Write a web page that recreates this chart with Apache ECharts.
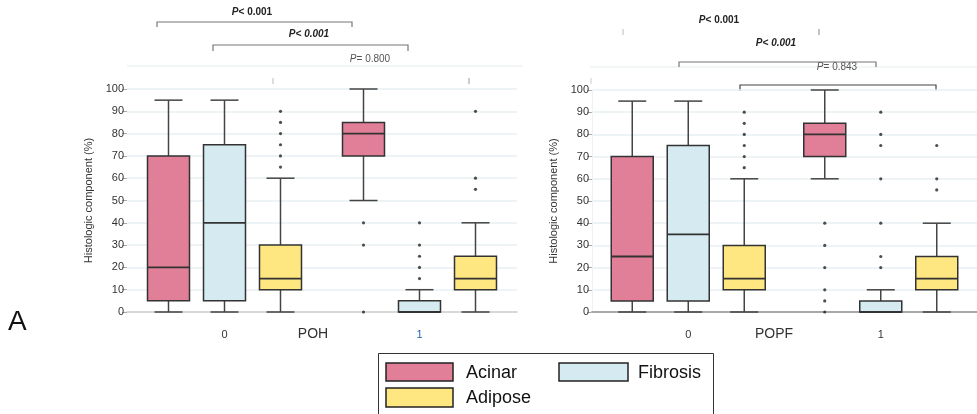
<!DOCTYPE html>
<html>
<head>
<meta charset="utf-8">
<script src="https://cdn.jsdelivr.net/npm/echarts@6/dist/echarts.min.js"></script>
<style>
html,body{margin:0;padding:0;background:#fff;}
#chart{width:977px;height:414px;}
</style>
</head>
<body>
<div id="chart"></div>
<script>
// ---------- DATA ----------
const categories = ['0', '1'];
const yTicks = [0, 10, 20, 30, 40, 50, 60, 70, 80, 90, 100];
const seriesNames = ['Acinar', 'Fibrosis', 'Adipose'];

// POH panel: [min, Q1, median, Q3, max] per category
const pohAcinar   = [[0, 5, 20, 70, 95], [50, 70, 80, 85, 100]];
const pohFibrosis = [[0, 5, 40, 75, 95], [0, 0, 0, 5, 10]];
const pohAdipose  = [[0, 10, 15, 30, 60], [0, 10, 15, 25, 40]];
const pohAcinarOut   = [[], [40, 30, 0]];
const pohFibrosisOut = [[], [40, 30, 25, 20, 15]];
const pohAdiposeOut  = [[90, 85, 80, 75, 70, 65], [90, 60, 55]];

// POPF panel
const popfAcinar   = [[0, 5, 25, 70, 95], [60, 70, 80, 85, 100]];
const popfFibrosis = [[0, 5, 35, 75, 95], [0, 0, 0, 5, 10]];
const popfAdipose  = [[0, 10, 15, 30, 60], [0, 10, 15, 25, 40]];
const popfAcinarOut   = [[], [40, 30, 20, 10, 5, 0]];
const popfFibrosisOut = [[], [90, 80, 75, 60, 40, 25, 20]];
const popfAdiposeOut  = [[90, 85, 80, 75, 70, 65], [75, 60, 55]];

const pLabels = ['< 0.001', '< 0.001', '= 0.800', '< 0.001', '< 0.001', '= 0.843'];

// ---------- STYLE ----------
const FONT = 'Liberation Sans, Arial, sans-serif';
const colors = ['#e07f97', '#d5ebf1', '#fee781'];
const offsets = [-56, 0, 56];

function boxRender(offset, color) {
  return function (params, api) {
    const cat = api.value(0);
    const cx = api.coord([cat, 0])[0] + offset;
    const y = [1, 2, 3, 4, 5].map(function (d) { return api.coord([cat, api.value(d)])[1]; });
    const hw = 21, cw = 14;
    const ls = { stroke: '#444', lineWidth: 1.5 };
    return {
      type: 'group',
      children: [
        { type: 'line', shape: { x1: cx, y1: y[4], x2: cx, y2: y[3] }, style: ls },
        { type: 'line', shape: { x1: cx, y1: y[1], x2: cx, y2: y[0] }, style: ls },
        { type: 'line', shape: { x1: cx - cw, y1: y[4], x2: cx + cw, y2: y[4] }, style: ls },
        { type: 'line', shape: { x1: cx - cw, y1: y[0], x2: cx + cw, y2: y[0] }, style: ls },
        { type: 'rect', shape: { x: cx - hw, y: y[3], width: 2 * hw, height: Math.max(y[1] - y[3], 1) },
          style: { fill: color, stroke: '#333', lineWidth: 1.5 } },
        { type: 'line', shape: { x1: cx - hw, y1: y[2], x2: cx + hw, y2: y[2] }, style: { stroke: '#333', lineWidth: 1.8 } }
      ]
    };
  };
}

function boxData(arr) {
  return arr.map(function (s, i) { return [i].concat(s); });
}
function outData(arr) {
  const res = [];
  arr.forEach(function (list, i) { list.forEach(function (v) { res.push([i, v]); }); });
  return res;
}

function panelSeries(idx, boxes, outs) {
  const s = [];
  boxes.forEach(function (b, k) {
    s.push({
      type: 'custom', name: seriesNames[k], xAxisIndex: idx, yAxisIndex: idx,
      renderItem: boxRender(offsets[k], colors[k]),
      encode: { x: 0, y: [1, 2, 3, 4, 5] },
      data: boxData(b), z: 2
    });
  });
  outs.forEach(function (o, k) {
    s.push({
      type: 'scatter', xAxisIndex: idx, yAxisIndex: idx,
      symbol: 'circle', symbolSize: 3.2, symbolOffset: [offsets[k], 0],
      itemStyle: { color: '#222' }, data: outData(o), z: 3, silent: true
    });
  });
  return s;
}

function yAxisCfg(idx, showLine) {
  return {
    type: 'value', gridIndex: idx, min: yTicks[0], max: yTicks[yTicks.length - 1], interval: 10,
    name: 'Histologic component (%)', nameLocation: 'middle', nameGap: 33,
    nameTextStyle: { fontSize: 11, color: '#333', fontFamily: FONT },
    axisLine: { show: showLine, lineStyle: { color: '#eef2f4', width: 1 } },
    axisTick: { show: true, length: 5, lineStyle: { color: '#aaa' } },
    axisLabel: { fontSize: 11, color: '#333', margin: 3, fontFamily: FONT },
    splitLine: { lineStyle: { color: '#e9eff2', width: 1.5 } }
  };
}

function xAxisCfg(idx, lineColor, label1Color) {
  return {
    type: 'category', gridIndex: idx,
    data: [{ value: categories[0] }, { value: categories[1], textStyle: { color: label1Color } }],
    offset: 10,
    axisLine: { lineStyle: { color: lineColor, width: 2 } },
    axisTick: { show: false },
    axisLabel: { fontSize: 11, color: '#333', margin: 7, fontFamily: FONT },
    splitLine: { show: false }
  };
}

function bracket(x1, x2, y, leg, color) {
  return {
    type: 'polyline', silent: true,
    shape: { points: [[x1, y + leg], [x1, y], [x2, y], [x2, y + leg]] },
    style: { stroke: color, lineWidth: 1.2, fill: null }
  };
}
function pText(cx, cy, val, boldP, boldRest, italicRest, color) {
  return {
    type: 'text', silent: true,
    style: {
      x: cx, y: cy, align: 'center', verticalAlign: 'middle',
      rich: {
        p: { fontFamily: FONT, fontSize: 10, fontStyle: 'italic', fontWeight: boldP ? 'bold' : 'normal', fill: color },
        r: { fontFamily: FONT, fontSize: 10, fontStyle: italicRest ? 'italic' : 'normal', fontWeight: boldRest ? 'bold' : 'normal', fill: color }
      },
      text: '{p|P}{r|' + val + '}'
    }
  };
}
function vtick(x, y1, y2, color) {
  return { type: 'line', silent: true, shape: { x1: x, y1: y1, x2: x, y2: y2 }, style: { stroke: color, lineWidth: 1 } };
}

const graphics = [
  // faint top lines
  { type: 'line', silent: true, shape: { x1: 127, y1: 66, x2: 523, y2: 66 }, style: { stroke: '#e6edf0', lineWidth: 1.2 } },
  { type: 'line', silent: true, shape: { x1: 590, y1: 67, x2: 977, y2: 67 }, style: { stroke: '#e6edf0', lineWidth: 1.2 } },
  // left brackets
  bracket(157, 352, 22, 5, '#777'),
  pText(252, 12, pLabels[0], true, true, false, '#222'),
  bracket(213, 408, 45, 6, '#777'),
  pText(309, 34, pLabels[1], true, true, true, '#222'),
  pText(370, 59, pLabels[2], false, false, false, '#555'),
  vtick(273, 78, 84, '#bbb'),
  vtick(469, 78, 84, '#999'),
  // right brackets
  pText(719, 20, pLabels[3], true, true, false, '#222'),
  vtick(623, 29, 35, '#bbb'),
  vtick(819, 29, 35, '#888'),
  pText(776, 43, pLabels[4], true, true, true, '#222'),
  bracket(679, 876, 62, 5, '#777'),
  pText(837, 67, pLabels[5], false, false, false, '#555'),
  bracket(740, 936, 85, 6, '#444'),
  vtick(591, 78, 84, '#ccc'),
  // axis titles
  { type: 'text', silent: true, style: { x: 313, y: 334, text: 'POH', align: 'center', verticalAlign: 'middle', fontFamily: FONT, fontSize: 14, fill: '#333' } },
  { type: 'text', silent: true, style: { x: 774, y: 334, text: 'POPF', align: 'center', verticalAlign: 'middle', fontFamily: FONT, fontSize: 14, fill: '#333' } },
  // panel letter
  { type: 'text', silent: true, style: { x: 8, y: 322, text: 'A', align: 'left', verticalAlign: 'middle', fontFamily: FONT, fontSize: 28, fill: '#111' } },
  // legend
  { type: 'rect', silent: true, shape: { x: 378.5, y: 353.5, width: 335, height: 70 }, style: { fill: '#fff', stroke: '#333', lineWidth: 1 } },
  { type: 'rect', silent: true, shape: { x: 386, y: 363, width: 67, height: 18 }, style: { fill: colors[0], stroke: '#222', lineWidth: 1.5 } },
  { type: 'rect', silent: true, shape: { x: 559, y: 363, width: 69, height: 18 }, style: { fill: colors[1], stroke: '#222', lineWidth: 1.5 } },
  { type: 'rect', silent: true, shape: { x: 386, y: 388, width: 67, height: 19 }, style: { fill: colors[2], stroke: '#222', lineWidth: 1.5 } },
  { type: 'text', silent: true, style: { x: 466, y: 373, text: seriesNames[0], verticalAlign: 'middle', fontFamily: FONT, fontSize: 18, fill: '#111' } },
  { type: 'text', silent: true, style: { x: 638, y: 373, text: seriesNames[1], verticalAlign: 'middle', fontFamily: FONT, fontSize: 18, fill: '#111' } },
  { type: 'text', silent: true, style: { x: 466, y: 398, text: seriesNames[2], verticalAlign: 'middle', fontFamily: FONT, fontSize: 18, fill: '#111' } }
];

const chart = echarts.init(document.getElementById('chart'), null, { renderer: 'canvas' });
chart.setOption({
  animation: false,
  backgroundColor: '#fff',
  grid: [
    { left: 127, top: 89, width: 390, height: 223 },
    { left: 592, top: 90, width: 392, height: 222 }
  ],
  xAxis: [xAxisCfg(0, '#d8d8d8', '#1f63b0'), xAxisCfg(1, '#a8a8a8', '#333')],
  yAxis: [yAxisCfg(0, false), yAxisCfg(1, true)],
  series: panelSeries(0, [pohAcinar, pohFibrosis, pohAdipose], [pohAcinarOut, pohFibrosisOut, pohAdiposeOut])
    .concat(panelSeries(1, [popfAcinar, popfFibrosis, popfAdipose], [popfAcinarOut, popfFibrosisOut, popfAdiposeOut])),
  graphic: graphics
});
</script>
</body>
</html>
